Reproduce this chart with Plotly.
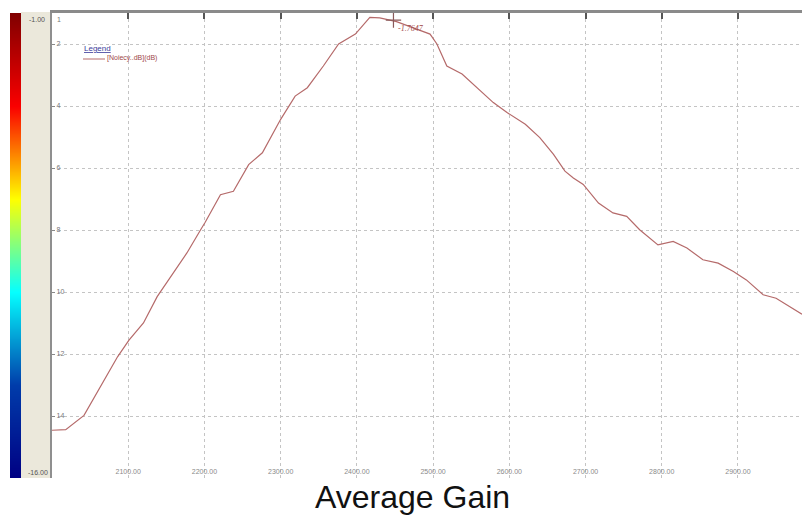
import plotly.graph_objects as go

# ---- data ----
freq = [2000, 2018, 2042, 2086, 2101, 2120, 2138, 2164, 2177, 2195, 2201, 2221, 2238,
        2258, 2276, 2300, 2319, 2335, 2356, 2376, 2398, 2417, 2430, 2452, 2483, 2496,
        2505, 2518, 2538, 2557, 2579, 2597, 2621, 2640, 2658, 2673, 2684, 2697, 2717,
        2736, 2754, 2771, 2795, 2815, 2833, 2854, 2874, 2894, 2911, 2933, 2950, 2984]
gain = [14.46, 14.44, 13.98, 12.09, 11.55, 11.0, 10.15, 9.23, 8.74, 7.99, 7.75, 6.86, 6.75,
        5.89, 5.51, 4.43, 3.68, 3.41, 2.71, 2.0, 1.68, 1.14, 1.16, 1.28, 1.57, 1.68,
        2.0, 2.71, 2.97, 3.41, 3.89, 4.21, 4.59, 5.02, 5.56, 6.10, 6.32, 6.53, 7.13,
        7.45, 7.56, 7.99, 8.48, 8.37, 8.58, 8.96, 9.07, 9.34, 9.61, 10.09, 10.20, 10.72]
series_name = "[Noiecy..dB](dB)"

marker_freq = [2448]
marker_gain = [1.23]
marker_label = "-1.7647"

x_ticks = [2100, 2200, 2300, 2400, 2500, 2600, 2700, 2800, 2900, 3000]
y_ticks = [1, 2, 4, 6, 8, 10, 12, 14]
cbar_levels = [-16, -15, -14, -13, -12, -11, -10, -9, -8, -7, -6, -5, -4, -3, -2, -1]
cbar_labels = ["-1.00", "-16.00"]
title_text = "Average Gain"

W, H = 802, 519
PL = 52            # left edge of plot area (px)
PT, PB = 13, 478   # top / bottom of plot area (px)
PH = PB - PT


def px_x(p):
    return p / W


def px_y(p):
    return (PB - p) / PH


fig = go.Figure()

# colour strip on the far left
fig.add_trace(go.Heatmap(
    z=[[v] for v in cbar_levels], y=cbar_levels, x=[0],
    colorscale="Jet", zmin=-16, zmax=-1, showscale=False, zsmooth="best",
    xaxis="x4", yaxis="y4", hoverinfo="skip",
))

fig.add_trace(go.Scatter(
    x=freq, y=gain, mode="lines", name=series_name, showlegend=False,
    line=dict(color="#b56a6a", width=1.2),
))

# dummy trace so the top axis is drawn
fig.add_trace(go.Scatter(x=[freq[0]], y=[gain[0]], xaxis="x3", yaxis="y",
                         mode="markers", marker=dict(opacity=0), showlegend=False,
                         hoverinfo="skip"))

fig.add_trace(go.Scatter(
    x=marker_freq, y=marker_gain, mode="markers", showlegend=False,
    marker=dict(symbol="cross-thin", size=11, line=dict(color="#8a5a5a", width=1.2)),
))

fig.add_annotation(x=marker_freq[0], y=marker_gain[0], text="<i>" + marker_label + "</i>",
                   showarrow=False, xanchor="left", yanchor="top", xshift=3, yshift=-2,
                   font=dict(size=8, color="#a04848", family="Liberation Serif"))

grid = dict(showgrid=True, gridcolor="#c4c4c4", griddash="dot", gridwidth=1)

fig.update_layout(
    width=W, height=H,
    margin=dict(l=0, r=0, t=PT, b=H - PB),
    paper_bgcolor="white", plot_bgcolor="white",
    font=dict(family="Liberation Sans, Arial", color="#666"),
    showlegend=False,
    xaxis=dict(
        domain=[PL / W, 1], range=[2000, 2984],
        tickvals=x_ticks, tickformat=".2f",
        ticklabelposition="inside", ticks="",
        tickfont=dict(size=7, color="#8a8a8a"),
        showline=False, zeroline=False, **grid,
    ),
    xaxis3=dict(
        overlaying="x", side="top", matches="x", anchor="y",
        tickvals=x_ticks, ticks="inside", ticklen=6, tickwidth=2, tickcolor="#555",
        showticklabels=False, showgrid=False, zeroline=False,
        showline=True, linecolor="#8a8a8a", linewidth=3,
    ),
    yaxis=dict(
        domain=[0, 1], range=[16, 1], anchor="x",
        tickvals=y_ticks[1:], ticklabelposition="inside", ticks="inside", ticklen=3,
        tickcolor="#888", tickfont=dict(size=7, color="#777"),
        showline=True, linecolor="#8f8f8f", linewidth=2, zeroline=False, **grid,
    ),
    xaxis4=dict(domain=[10 / W, 21 / W], range=[-0.5, 0.5], visible=False, anchor="y4"),
    yaxis4=dict(domain=[0, 1], range=[-16, -1], visible=False, anchor="x4"),
)

# y label "1" at the very top (inside the plot)
fig.add_annotation(xref="paper", yref="y", x=px_x(PL + 3), y=y_ticks[0], text=str(y_ticks[0]),
                   showarrow=False, xanchor="left", yanchor="top", yshift=-1,
                   font=dict(size=7, color="#777"))

# beige panel between the colour strip and the plot
fig.add_shape(type="rect", xref="paper", yref="paper", x0=21 / W, x1=(PL - 1) / W,
              y0=0, y1=1.002, fillcolor="#ebe8db", line=dict(width=0), layer="below")

fig.add_annotation(xref="paper", yref="paper", x=37 / W, y=1, text=cbar_labels[0],
                   showarrow=False, xanchor="center", yanchor="top", yshift=-1,
                   font=dict(size=7, color="#555"))
fig.add_annotation(xref="paper", yref="paper", x=38 / W, y=0, text=cbar_labels[1],
                   showarrow=False, xanchor="center", yanchor="bottom",
                   font=dict(size=7, color="#555"))

# legend box (drawn by hand to match the original's compact layout)
fig.add_annotation(xref="paper", yref="paper", x=px_x(82), y=px_y(49), text="<u>Legend</u>",
                   showarrow=False, xanchor="left", yanchor="middle",
                   font=dict(size=8, color="#3a3a9a"))
fig.add_shape(type="line", xref="paper", yref="paper", x0=px_x(83), x1=px_x(105),
              y0=px_y(59), y1=px_y(59), line=dict(color="#b56a6a", width=1))
fig.add_annotation(xref="paper", yref="paper", x=px_x(105), y=px_y(58), text=series_name,
                   showarrow=False, xanchor="left", yanchor="middle",
                   font=dict(size=7, color="#a04848"))

fig.add_annotation(xref="paper", yref="paper", x=412 / W, y=px_y(497),
                   text=title_text, showarrow=False, xanchor="center", yanchor="middle",
                   font=dict(size=32, color="#111", family="Liberation Sans, Arial"))

fig.write_html("out.html")
